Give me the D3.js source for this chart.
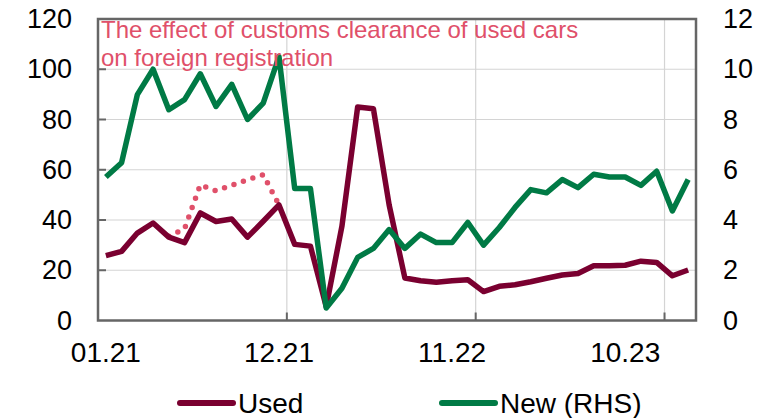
<!DOCTYPE html>
<html>
<head>
  <title>Used and new car registrations</title>
  <script src="https://cdnjs.cloudflare.com/ajax/libs/d3/7.8.5/d3.min.js"></script>
  <style>
  body { margin: 0; background: #fff; }
  svg { font-family: "Liberation Sans", Arial, sans-serif; }
  </style>
</head>
<body>
  <script>

var months = ["01.21","02.21","03.21","04.21","05.21","06.21","07.21","08.21","09.21","10.21","11.21","12.21",
              "01.22","02.22","03.22","04.22","05.22","06.22","07.22","08.22","09.22","10.22","11.22","12.22",
              "01.23","02.23","03.23","04.23","05.23","06.23","07.23","08.23","09.23","10.23","11.23","12.23",
              "01.24","02.24"];

var used = [25.8, 27.5, 34.8, 38.8, 33.2, 31, 42.8, 39.4, 40.4, 33.2, 39.5, 46,
            30.3, 29.6, 5.5, 37.5, 85, 84.3, 46, 16.9, 15.8, 15.2, 15.8, 16.2,
            11.5, 13.6, 14.2, 15.4, 16.8, 18.1, 18.7, 21.8, 21.8, 22, 23.6, 23.1,
            17.8, 20.1];

var newCars = [5.71, 6.28, 8.99, 10.0, 8.39, 8.79, 9.82, 8.52, 9.4, 8.0, 8.65, 10.5,
               5.25, 5.25, 0.5, 1.28, 2.51, 2.87, 3.62, 2.87, 3.44, 3.1, 3.1, 3.9,
               3.0, 3.7, 4.5, 5.21, 5.08, 5.61, 5.29, 5.82, 5.71, 5.71, 5.38, 5.94,
               4.36, 5.61];

// used cars incl. the customs clearance effect (only 05.21 - 12.21)
var usedEffect = [null, null, null, null, 33.5, 36.5, 54, 51.6, 53.8, 56, 58, 46,
                  null, null, null, null, null, null, null, null, null, null, null, null,
                  null, null, null, null, null, null, null, null, null, null, null, null,
                  null, null];

var leftTicks = [0, 20, 40, 60, 80, 100, 120];
var rightTicks = [0, 2, 4, 6, 8, 10, 12];
var labelIdx = [0, 11, 22, 33];
var gridIdx = [12, 24, 36];

var width = 767, height = 418;
var M = {left: 98, right: 696, top: 19, bottom: 320.5};

var svg = d3.select("body").append("svg")
    .attr("width", width)
    .attr("height", height);

var x = d3.scaleBand()
    .domain(d3.range(months.length))
    .range([M.left, M.right]);

var xb = d3.scaleLinear()
    .domain([0, months.length])
    .range([M.left, M.right]);

var yL = d3.scaleLinear().domain([0, 120]).range([M.bottom, M.top]);
var yR = d3.scaleLinear().domain([0, 12]).range([M.bottom, M.top]);

function cx(i) { return x(i) + x.bandwidth() / 2; }

// gridlines
svg.append("g").selectAll("line.h")
    .data(leftTicks.slice(1))
    .enter().append("line")
    .attr("x1", M.left).attr("x2", M.right)
    .attr("y1", d => yL(d)).attr("y2", d => yL(d))
    .attr("stroke", "#d4d4d4").attr("stroke-width", 1.2);

svg.append("g").selectAll("line.v")
    .data(gridIdx)
    .enter().append("line")
    .attr("x1", d => xb(d)).attr("x2", d => xb(d))
    .attr("y1", M.top).attr("y2", M.bottom)
    .attr("stroke", "#d4d4d4").attr("stroke-width", 1.2);

// inner tick marks
svg.append("g").selectAll("line")
    .data(leftTicks.slice(1, -1))
    .enter().append("line")
    .attr("x1", M.left).attr("x2", M.left + 8)
    .attr("y1", d => yL(d)).attr("y2", d => yL(d))
    .attr("stroke", "#666").attr("stroke-width", 2);

svg.append("g").selectAll("line")
    .data(gridIdx)
    .enter().append("line")
    .attr("x1", d => xb(d)).attr("x2", d => xb(d))
    .attr("y1", M.bottom).attr("y2", M.bottom - 8)
    .attr("stroke", "#666").attr("stroke-width", 2);

// frame
svg.append("rect")
    .attr("x", M.left).attr("y", M.top)
    .attr("width", M.right - M.left).attr("height", M.bottom - M.top)
    .attr("fill", "none").attr("stroke", "#666").attr("stroke-width", 2.5);

// axis labels
var yAxisL = svg.append("g")
    .attr("transform", "translate(" + M.left + ",0)")
    .call(d3.axisLeft(yL).tickValues(leftTicks).tickSize(0).tickPadding(26));
var yAxisR = svg.append("g")
    .attr("transform", "translate(" + M.right + ",0)")
    .call(d3.axisRight(yR).tickValues(rightTicks).tickSize(0).tickPadding(27));
var xAxis = svg.append("g")
    .attr("transform", "translate(0," + M.bottom + ")")
    .call(d3.axisBottom(x).tickValues(labelIdx).tickFormat(i => months[i]).tickSize(0).tickPadding(22));

[yAxisL, yAxisR, xAxis].forEach(function(g) {
  g.select(".domain").remove();
  g.selectAll("text")
    .attr("font-family", "'Liberation Sans', Arial, sans-serif")
    .attr("font-size", "27px")
    .attr("fill", "#000");
});
xAxis.selectAll("text").attr("font-size", "28px");

// series
var lineL = d3.line()
    .defined(d => d != null)
    .x((d, i) => cx(i))
    .y(d => yL(d));
var lineR = d3.line()
    .x((d, i) => cx(i))
    .y(d => yR(d));

svg.append("path")
    .datum(usedEffect)
    .attr("d", lineL)
    .attr("fill", "none")
    .attr("stroke", "#e0506a")
    .attr("stroke-width", 5.5)
    .attr("stroke-linecap", "round")
    .attr("stroke-dasharray", "0 10");

svg.append("path")
    .datum(used)
    .attr("d", lineL)
    .attr("fill", "none")
    .attr("stroke", "#7a0030")
    .attr("stroke-width", 5.5)
    .attr("stroke-linejoin", "round");

svg.append("path")
    .datum(newCars)
    .attr("d", lineR)
    .attr("fill", "none")
    .attr("stroke", "#007a45")
    .attr("stroke-width", 5.5)
    .attr("stroke-linejoin", "round");

// annotation
var note = svg.append("text")
    .attr("x", 101)
    .attr("y", 38)
    .attr("font-size", "24px")
    .attr("fill", "#e0506a");
note.append("tspan").attr("x", 101).text("The effect of customs clearance of used cars");
note.append("tspan").attr("x", 101).attr("dy", 28).text("on foreign registration");

// legend
var legend = [
  {name: "Used", color: "#7a0030", x: 178},
  {name: "New (RHS)", color: "#007a45", x: 440}
];
var lg = svg.append("g").selectAll("g")
    .data(legend)
    .enter().append("g")
    .attr("transform", d => "translate(" + d.x + ",403)");
lg.append("line")
    .attr("x1", 2).attr("x2", 55)
    .attr("stroke", d => d.color)
    .attr("stroke-width", 6)
    .attr("stroke-linecap", "round");
lg.append("text")
    .attr("x", 60)
    .attr("y", 10)
    .attr("font-size", "28px")
    .attr("fill", "#000")
    .text(d => d.name);

  </script>
</body>
</html>
